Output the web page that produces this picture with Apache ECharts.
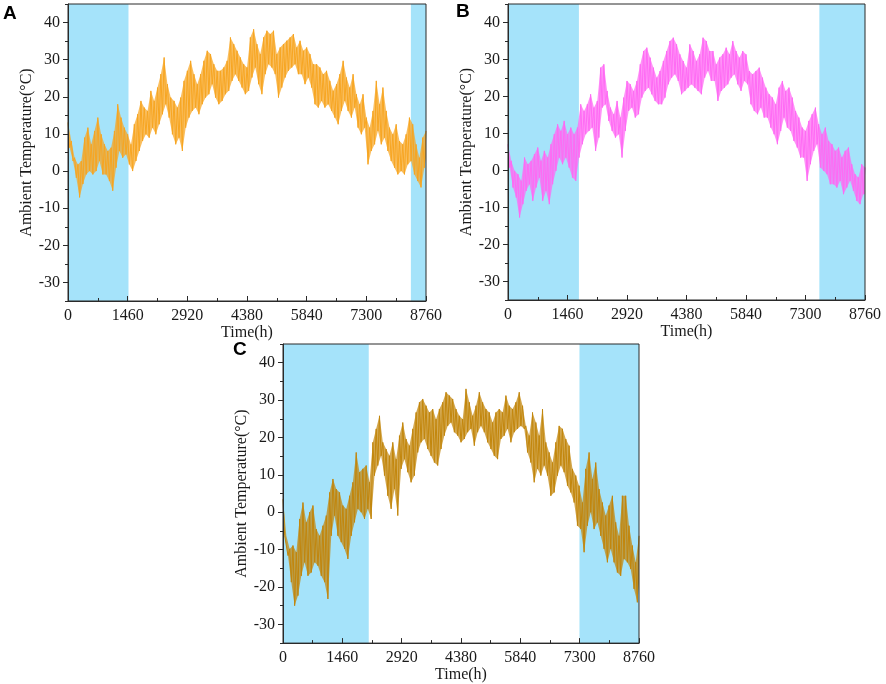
<!DOCTYPE html>
<html>
<head>
<meta charset="utf-8">
<script src="https://cdn.jsdelivr.net/npm/echarts@6.0.0/dist/echarts.min.js"></script>
<style>
html, body { margin: 0; padding: 0; background: #fff; }
#chart { width: 886px; height: 684px; }
</style>
</head>
<body>
<div id="chart"></div>
<script>
var highsA = [13.1, 8.1, 3.6, 1.8, 2.7, 9.0, 11.7, 7.2, 10.8, 14.4,
    9.9, 7.2, 5.4, 6.3, 10.8, 18.0, 14.4, 11.7, 9.9, 7.2,
    12.6, 15.3, 18.9, 17.1, 16.2, 21.6, 18.9, 22.5, 26.1, 30.6,
    23.4, 19.8, 18.9, 17.1, 19.8, 24.3, 27.0, 29.7, 26.1, 23.4,
    26.1, 29.7, 32.4, 31.5, 28.8, 27.0, 27.0, 27.9, 29.7, 36.0,
    34.2, 32.4, 30.6, 28.8, 27.9,
    36.0, 38.2, 34.2, 31.5, 36.0, 37.8, 36.9, 37.8, 31.5, 33.3,
    34.2, 35.1, 36.0, 36.9, 33.3, 35.1, 32.4, 33.3, 31.5, 28.8,
    28.8, 27.9, 26.1, 27.0, 24.3, 21.6, 23.4, 26.1, 29.7, 25.2,
    22.5, 26.1, 20.7, 18.0, 20.7, 14.4, 11.7, 16.2, 24.3, 18.0,
    22.5, 16.2, 11.7, 9.9, 12.6, 8.1, 7.2, 9.9, 14.4, 12.6,
    7.2, 3.6, 9.0, 10.8];
var lowsA = [6.3, 2.7, -1.8, -7.1, -3.5, -0.9, 0, -0.9, 0, 2.7,
    -0.9, -0.9, -2.7, -5.3, 0.9, 5.4, 3.6, 4.5, 1.8, 0,
    2.7, 5.4, 8.1, 9.9, 9.0, 11.7, 9.9, 12.6, 15.3, 18.0,
    14.4, 9.9, 7.2, 9.0, 5.4, 11.7, 14.4, 16.2, 17.1, 15.3,
    18.0, 19.8, 20.7, 23.4, 19.8, 18.0, 18.9, 20.7, 21.6, 24.3,
    26.1, 24.3, 22.5, 20.7, 21.6,
    25.2, 27.9, 23.4, 20.7, 26.1, 28.8, 27.9, 26.1, 19.8, 22.5,
    25.2, 27.0, 27.9, 28.8, 26.1, 26.1, 23.4, 25.2, 22.5, 18.0,
    17.1, 18.9, 17.1, 18.0, 16.2, 14.4, 12.6, 16.2, 18.9, 16.2,
    14.4, 17.1, 11.7, 9.9, 11.7, 1.8, 5.4, 7.2, 10.8, 7.2,
    9.0, 5.4, 2.7, 0.9, -0.9, 0, -0.9, 1.8, 2.7, -0.9,
    -2.7, -4.4, 0.9, 3.6];

var highsB = [7.1, 2.6, -0.1, -1.0, -2.8, 3.5, 1.7, 2.6, 4.4, 6.2,
    2.6, 5.3, 3.5, 7.1, 9.8, 12.5, 10.7, 13.4, 9.8, 11.6,
    9.8, 11.6, 17.9, 16.1, 17.9, 20.6, 17.0, 18.8, 27.8, 28.7,
    21.5, 17.0, 15.2, 18.8, 14.3, 19.7, 24.2, 23.3, 21.5, 24.2,
    28.7, 32.3, 33.2, 30.5, 27.8, 25.1, 26.9, 29.6, 32.3, 35.0,
    35.9, 34.1, 31.4, 29.6, 27.8,
    34.1, 32.3, 29.6, 31.4, 35.9, 35.0, 32.3, 32.3, 28.7, 30.5,
    31.4, 33.2, 31.4, 35.0, 32.3, 30.5, 32.3, 31.4, 26.9, 26.0,
    26.9, 27.8, 25.1, 22.4, 20.6, 19.7, 17.9, 22.4, 24.2, 21.5,
    22.4, 19.7, 16.1, 14.3, 11.6, 10.7, 13.4, 15.2, 17.0, 12.5,
    9.8, 11.6, 8.0, 7.1, 5.3, 6.2, 3.5, 5.3, 6.2, 1.7,
    -1.0, -1.9, 1.7, 0.8];
var lowsB = [0.8, -4.6, -7.3, -12.7, -9.1, -5.5, -3.7, -8.2, -4.6, -1.9,
    -8.2, -5.5, -9.1, -3.7, -0.1, 3.5, 1.7, 3.5, 0.8, -1.9,
    -2.8, 3.5, 7.1, 9.8, 10.7, 11.6, 5.3, 8.9, 17.0, 17.9,
    13.4, 10.7, 8.9, 9.8, 3.5, 10.7, 16.1, 17.0, 14.3, 15.2,
    19.7, 21.5, 22.4, 20.6, 18.8, 17.9, 17.9, 19.7, 23.3, 25.1,
    26.0, 24.2, 20.6, 21.5, 22.4,
    23.3, 22.4, 21.5, 20.6, 25.1, 26.9, 24.2, 24.2, 18.8, 21.5,
    22.4, 23.3, 25.1, 26.0, 23.3, 21.5, 24.2, 23.3, 17.9, 16.1,
    15.2, 17.0, 14.3, 14.3, 11.6, 9.8, 7.1, 10.7, 14.3, 11.6,
    10.7, 8.0, 6.2, 3.5, 3.5, -2.8, 1.7, 5.3, 7.1, 0.8,
    -0.1, -1.0, -3.7, -3.7, -4.6, -2.8, -6.4, -4.6, -2.8, -5.5,
    -8.2, -9.1, -6.4, -6.4];

var highsC = [3.5, -6.3, -9.8, -8.9, -10.7, -1.8, 2.6, -2.7, 0.0, 1.8,
    -4.5, -6.3, -3.6, -0.9, 5.3, 8.9, 6.2, 5.3, 1.8, 0.9,
    4.4, 8.0, 16.0, 10.7, 11.6, 12.5, 8.0, 18.7, 22.3, 25.8,
    18.7, 16.9, 15.1, 18.7, 14.2, 20.5, 24.0, 19.6, 17.8, 22.3,
    26.7, 29.4, 30.3, 28.5, 26.7, 27.6, 24.9, 27.6, 29.4, 32.1,
    31.2, 30.3, 27.6, 25.8, 24.9,
    33.0, 29.4, 25.8, 28.5, 32.1, 29.4, 27.6, 26.7, 24.0, 26.7,
    27.6, 26.7, 31.2, 28.5, 27.6, 29.4, 32.1, 28.5, 23.1, 20.5,
    26.7, 24.0, 20.5, 27.6, 18.7, 16.0, 13.3, 18.7, 23.1, 22.3,
    19.6, 17.8, 11.6, 9.8, 7.1, 2.6, 11.6, 16.0, 8.9, 13.3,
    6.2, 2.6, -0.9, 1.8, 4.4, -2.7, -6.3, 4.4, 4.4, -3.6,
    -8.9, -13.4, -6.3];
var lowsC = [-6.3, -11.6, -18.7, -25.0, -22.3, -17.0, -13.4, -17.0, -16.1, -13.4,
    -14.3, -17.0, -18.7, -23.2, -6.3, -0.9, -6.3, -8.0, -9.8, -12.5,
    -6.3, -2.7, 0.9, 0.0, -1.8, 0.9, -1.8, 9.8, 12.5, 15.1,
    9.8, 4.4, 0.9, 6.2, -0.9, 11.6, 14.2, 10.7, 8.0, 9.8,
    16.0, 18.7, 19.6, 16.9, 15.1, 13.3, 12.5, 16.9, 20.5, 23.1,
    24.0, 21.4, 20.5, 18.7, 19.6,
    21.4, 22.3, 17.8, 21.4, 23.1, 21.4, 18.7, 16.9, 15.1, 14.2,
    19.6, 20.5, 22.3, 18.7, 21.4, 22.3, 23.1, 22.3, 16.0, 13.3,
    8.0, 11.6, 9.8, 12.5, 9.8, 4.4, 5.3, 9.8, 12.5, 10.7,
    7.1, 5.3, 2.6, -3.6, -4.5, -10.7, -3.6, 0.0, -4.5, -2.7,
    -6.3, -9.8, -13.4, -9.8, -13.4, -16.1, -17.0, -12.5, -13.4, -15.2,
    -20.5, -24.1, -18.7];

// shaded heating periods (h)
var heatA = [[0, 1480], [8390, 8760]];
var heatB = [[0, 1740], [7640, 8760]];
var heatC = [[0, 2110], [7295, 8760]];

var xMajor = [0, 1460, 2920, 4380, 5840, 7300, 8760];
var yMajor = [-30, -20, -10, 0, 10, 20, 30, 40];

var serif = 'Liberation Serif';
var txt = '#1a1a1a';
var axisCol = '#2a2a2a';

function samples(highs, lows) {
    var step = 8760 / (highs.length - 1);
    var top = [], bottom = [], zig = [];
    for (var i = 0; i < highs.length; i++) {
        var tLow = Math.min(i * step + step / 2, 8760);
        top.push([i * step, highs[i]]);
        bottom.push([tLow, lows[i]]);
        zig.push([i * step, highs[i]]);
        if (i < highs.length - 1) zig.push([tLow, lows[i]]);
    }
    return { top: top, bottom: bottom, zig: zig };
}

var panels = [
    { letter: 'A', highs: highsA, lows: lowsA, heat: heatA, color: '#F7A521',
      grid: { left: 68, top: 4, width: 358, height: 297 }, lpos: [3, 4], xGap: 20, yGap: 25 },
    { letter: 'B', highs: highsB, lows: lowsB, heat: heatB, color: '#FF6AF4',
      grid: { left: 508, top: 4, width: 357, height: 296 }, lpos: [456, 2], xGap: 20, yGap: 25 },
    { letter: 'C', highs: highsC, lows: lowsC, heat: heatC, color: '#C2860C',
      grid: { left: 283, top: 344, width: 356, height: 300 }, lpos: [233, 340], xGap: 17, yGap: 24 }
];

var grids = [], xAxes = [], yAxes = [], series = [], titles = [];

panels.forEach(function (p, g) {
    var s = samples(p.highs, p.lows);
    grids.push({
        left: p.grid.left, top: p.grid.top, width: p.grid.width, height: p.grid.height,
        show: true, borderColor: axisCol, borderWidth: 1, z: 20
    });
    // minor ticks + labels
    xAxes.push({
        gridIndex: g, type: 'value', min: 0, max: 8760, interval: 730, position: 'bottom', z: 20,
        axisLine: { show: true, onZero: false, lineStyle: { color: axisCol } },
        axisTick: { show: true, inside: true, length: 3, lineStyle: { color: axisCol, width: 1 } },
        axisLabel: {
            margin: 7, fontFamily: serif, fontSize: 16, color: txt,
            formatter: function (v) { return v % 1460 === 0 ? String(v) : ''; }
        },
        splitLine: { show: false },
        name: 'Time(h)', nameLocation: 'middle', nameGap: p.xGap,
        nameTextStyle: { fontFamily: serif, fontSize: 16, color: txt }
    });
    // major ticks
    xAxes.push({
        gridIndex: g, type: 'value', min: 0, max: 8760, interval: 730, position: 'bottom', z: 20,
        axisLine: { show: false, onZero: false }, axisLabel: { show: false }, splitLine: { show: false },
        axisTick: { show: true, inside: true, length: 5, customValues: xMajor, lineStyle: { color: axisCol, width: 1 } }
    });
    yAxes.push({
        gridIndex: g, type: 'value', min: -35, max: 45, interval: 5, position: 'left', z: 20,
        axisLine: { show: true, onZero: false, lineStyle: { color: axisCol } },
        axisTick: { show: true, inside: false, length: 3, lineStyle: { color: axisCol, width: 1 } },
        axisLabel: {
            margin: 8, fontFamily: serif, fontSize: 16, color: txt,
            formatter: function (v) { return v % 10 === 0 ? String(v) : ''; }
        },
        splitLine: { show: false },
        name: 'Ambient Temperature(°C)', nameLocation: 'middle', nameRotate: 90, nameGap: p.yGap,
        nameTextStyle: { fontFamily: serif, fontSize: 16, color: txt }
    });
    yAxes.push({
        gridIndex: g, type: 'value', min: -35, max: 45, interval: 5, position: 'left', z: 20,
        axisLine: { show: false, onZero: false }, axisLabel: { show: false }, splitLine: { show: false },
        axisTick: { show: true, inside: false, length: 5, customValues: yMajor, lineStyle: { color: axisCol, width: 1 } }
    });
    // lighter band between the read tops and bottoms, under the zigzag trace
    series.push({
        type: 'custom', coordinateSystem: 'cartesian2d', xAxisIndex: 2 * g, yAxisIndex: 2 * g,
        data: [[0, 0]], silent: true, z: 3,
        renderItem: function (params, api) {
            var pts = [];
            s.top.forEach(function (d) { pts.push(api.coord(d)); });
            for (var i = s.bottom.length - 1; i >= 0; i--) pts.push(api.coord(s.bottom[i]));
            return { type: 'polygon', shape: { points: pts }, style: { fill: p.color, opacity: 0.72 } };
        }
    });
    series.push({
        type: 'line', xAxisIndex: 2 * g, yAxisIndex: 2 * g, z: 4,
        data: s.zig,
        symbol: 'none', showSymbol: false,
        lineStyle: { width: 1, color: p.color }, itemStyle: { color: p.color },
        markArea: {
            silent: true,
            itemStyle: { color: '#A5E3FA' },
            data: p.heat.map(function (r) { return [{ xAxis: r[0] }, { xAxis: r[1] }]; })
        }
    });
    titles.push({
        text: p.letter, left: p.lpos[0], top: p.lpos[1], padding: 0,
        textStyle: { fontFamily: 'Liberation Sans', fontWeight: 'bold', fontSize: 19, color: '#000' }
    });
});

var myChart = echarts.init(document.getElementById('chart'));
myChart.setOption({
    animation: false,
    title: titles,
    grid: grids,
    xAxis: xAxes,
    yAxis: yAxes,
    series: series
});
window.onresize = myChart.resize;
</script>
</body>
</html>
